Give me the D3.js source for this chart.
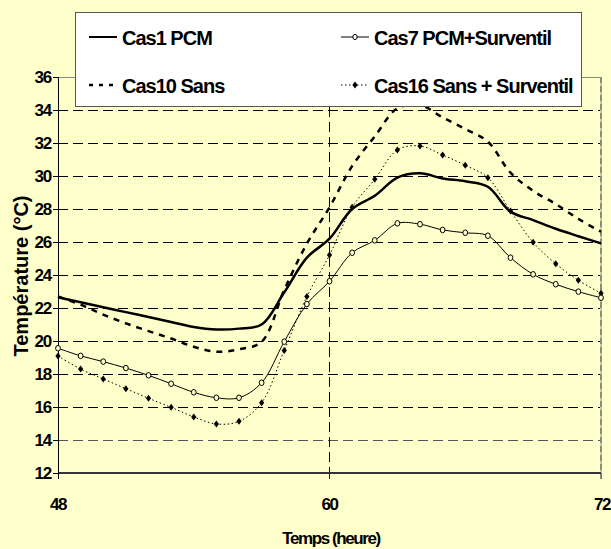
<!DOCTYPE html>
<html><head><meta charset="utf-8">
<script src="https://cdn.jsdelivr.net/npm/d3@7"></script>
<style>
html,body{margin:0;padding:0;background:#FFFFCC;}
svg{display:block;font-family:"Liberation Sans",Arial,sans-serif;font-weight:bold;}
</style></head><body>
<svg id="c" width="611" height="549"></svg>
<script>
const hours = [48,49,50,51,52,53,54,55,56,57,58,59,60,61,62,63,64,65,66,67,68,69,70,71,72];
const cas1  = [22.65,22.35,22.05,21.75,21.45,21.15,20.85,20.7,20.75,21.0,22.95,25.05,26.2,28.0,28.8,29.9,30.16,29.85,29.68,29.35,27.84,27.33,26.8,26.35,25.92];
const cas7  = [19.56,19.1,18.75,18.36,17.92,17.41,16.89,16.56,16.56,17.47,19.96,22.24,23.62,25.35,26.1,27.13,27.08,26.73,26.56,26.38,25.05,24.04,23.44,22.99,22.62];
const cas10 = [22.7,22.2,21.6,21.07,20.6,20.15,19.65,19.35,19.5,19.95,23.1,25.9,28.1,30.6,32.4,34.1,34.3,33.55,32.85,32.08,30.2,29.1,28.3,27.4,26.62];
const cas16 = [19.09,18.3,17.7,17.11,16.53,15.98,15.4,14.97,15.13,16.26,19.43,22.69,25.21,28.1,29.8,31.58,31.82,31.27,30.65,29.9,27.88,25.98,24.68,23.68,22.89];
const seriesNames = ["Cas1 PCM","Cas7 PCM+Surventil","Cas10 Sans","Cas16 Sans + Surventil"];
const yTicks = [12,14,16,18,20,22,24,26,28,30,32,34,36];
const xTicks = [48,60,72];
const xTitle = "Temps (heure)";
const yTitle = "Température (°C)";

const svg = d3.select("#c");
svg.append("rect").attr("width",611).attr("height",549).attr("fill","#FFFFCC");

const x = d3.scaleLinear().domain([48,72]).range([58,601]);
const y = d3.scaleLinear().domain([12,36]).range([473,77]);
const crisp = "crispEdges";

// horizontal gridlines
svg.append("g").attr("shape-rendering",crisp).selectAll("line").data(yTicks.filter(v=>v>12 && v<36)).join("line")
  .attr("x1",x(48)).attr("x2",x(72)).attr("y1",d=>y(d)).attr("y2",d=>y(d))
  .attr("stroke",d=>d===14?"#555":"#000").attr("stroke-width",1).attr("stroke-dasharray","10,5");
// top border
svg.append("line").attr("shape-rendering",crisp).attr("x1",x(48)).attr("x2",x(72)).attr("y1",y(36)).attr("y2",y(36))
  .attr("stroke","#8a8a7a").attr("stroke-width",1);
// vertical gridline at 60
svg.append("line").attr("shape-rendering",crisp).attr("x1",x(60)).attr("x2",x(60)).attr("y1",y(36)).attr("y2",y(12)+6)
  .attr("stroke","#000").attr("stroke-dasharray","10,5");
// right border at 72
svg.append("line").attr("x1",x(72)).attr("x2",x(72)).attr("y1",y(36)).attr("y2",y(12)+6)
  .attr("stroke","#c9c9a8").attr("stroke-width",2);
svg.append("line").attr("x1",x(72)).attr("x2",x(72)).attr("y1",y(36)).attr("y2",y(12)+6)
  .attr("stroke","#777").attr("stroke-width",1.5).attr("stroke-dasharray","6,3");

// bottom axis
svg.append("line").attr("shape-rendering",crisp).attr("x1",x(48)).attr("x2",x(72)).attr("y1",y(12)).attr("y2",y(12))
  .attr("stroke","#333").attr("stroke-width",2);
svg.append("g").attr("shape-rendering",crisp).selectAll("line").data(xTicks).join("line")
  .attr("x1",d=>x(d)).attr("x2",d=>x(d)).attr("y1",y(12)).attr("y2",y(12)+6)
  .attr("stroke",d=>d===48?"#000":(d===60?"#222":"#777"));
svg.append("g").selectAll("text").data(xTicks).join("text")
  .attr("x",d=>x(d)+ (d===72?1:0)).attr("y",y(12)+37).attr("text-anchor","middle")
  .attr("font-size",17).attr("letter-spacing","-1.5px").text(d=>d);

// left axis
svg.append("line").attr("shape-rendering",crisp).attr("x1",x(48)).attr("x2",x(48)).attr("y1",y(36)).attr("y2",y(12)+6)
  .attr("stroke","#000").attr("stroke-width",1);
svg.append("g").attr("shape-rendering",crisp).selectAll("line").data(yTicks).join("line")
  .attr("x1",x(48)-5).attr("x2",x(48)).attr("y1",d=>y(d)).attr("y2",d=>y(d)).attr("stroke","#000");
svg.append("g").selectAll("text").data(yTicks).join("text")
  .attr("x",x(48)-7).attr("y",d=>y(d)+6).attr("text-anchor","end")
  .attr("font-size",17).attr("letter-spacing","-1.2px").text(d=>d);

// titles
svg.append("text").attr("x",331).attr("y",544).attr("text-anchor","middle")
  .attr("font-size",17).attr("letter-spacing","-1.4px").text(xTitle);
svg.append("text").attr("transform","translate(28,276) rotate(-90)").attr("text-anchor","middle")
  .attr("font-size",20).text(yTitle);

// series
const smooth = d3.curveCatmullRom.alpha(0.5);
const mk = arr => d3.line().x((d,i)=>x(hours[i])).y(d=>y(d)).curve(smooth)(arr);
const gS = svg.append("g");
gS.append("path").attr("d",mk(cas10)).attr("fill","none").attr("stroke","#000").attr("stroke-width",2.5).attr("stroke-dasharray","6,6");
gS.append("path").attr("d",mk(cas16)).attr("fill","none").attr("stroke","#000").attr("stroke-width",1).attr("stroke-dasharray","1.5,2.5");
gS.append("path").attr("d",mk(cas7)).attr("fill","none").attr("stroke","#000").attr("stroke-width",1);
gS.append("path").attr("d",mk(cas1)).attr("fill","none").attr("stroke","#000").attr("stroke-width",2.5);

const diamond = (cx,cy)=>`M${cx},${cy-3.5}L${cx+2.6},${cy}L${cx},${cy+3.5}L${cx-2.6},${cy}Z`;
gS.append("g").selectAll("path").data(cas16).join("path")
  .attr("d",(d,i)=>diamond(x(hours[i]),y(d))).attr("fill","#000");
gS.append("g").selectAll("ellipse").data(cas7).join("ellipse")
  .attr("cx",(d,i)=>x(hours[i])).attr("cy",d=>y(d)).attr("rx",2.4).attr("ry",2.8)
  .attr("fill","#FFFFCC").attr("stroke","#000").attr("stroke-width",1);

// legend
const lg = svg.append("g");
lg.append("rect").attr("x",75.5).attr("y",12.5).attr("width",506).attr("height",94)
  .attr("fill","#fff").attr("stroke","#555").attr("stroke-width",1);
const legPos = [{lx:89,ty:45},{lx:341,ty:45},{lx:89,ty:93},{lx:341,ty:93}];
seriesNames.forEach((name,i)=>{
  const p = legPos[i];
  const ly = p.ty-8;
  const ln = lg.append("line").attr("x1",p.lx).attr("x2",p.lx+28).attr("y1",ly).attr("y2",ly).attr("stroke","#000");
  if(i===0) ln.attr("stroke-width",2);
  if(i===1){ ln.attr("stroke-width",1);
    lg.append("ellipse").attr("cx",p.lx+14).attr("cy",ly).attr("rx",2.2).attr("ry",2.6).attr("fill","#fff").attr("stroke","#000"); }
  if(i===2) ln.attr("stroke-width",2.5).attr("stroke-dasharray","4,6");
  if(i===3){ ln.attr("stroke-width",1).attr("stroke-dasharray","1.5,2.5");
    lg.append("path").attr("d",diamond(p.lx+14,ly)).attr("fill","#000"); }
  lg.append("text").attr("x",p.lx+33).attr("y",p.ty).attr("font-size",20).attr("letter-spacing","-1px").text(name);
});
</script></body></html>
